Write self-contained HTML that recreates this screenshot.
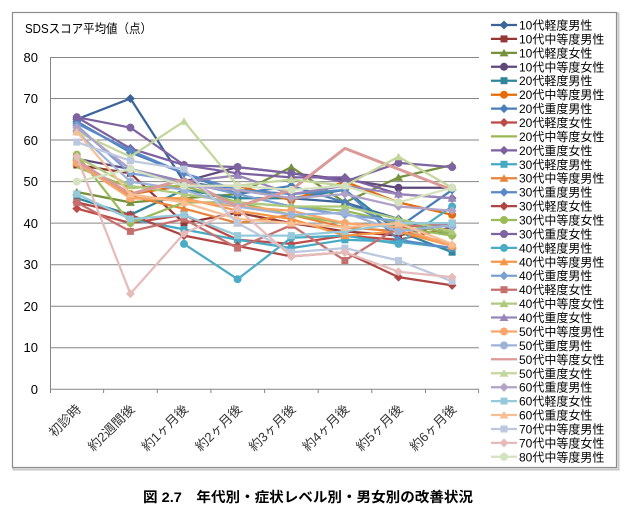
<!DOCTYPE html>
<html><head><meta charset="utf-8"><style>
html,body{margin:0;padding:0;background:#fff;}
svg{display:block;}
text{font-family:"Liberation Sans","Noto Sans CJK JP",sans-serif;}
</style></head><body>
<svg width="630" height="522" viewBox="0 0 630 522" xmlns="http://www.w3.org/2000/svg">
<defs>
<marker id="m1" markerWidth="10" markerHeight="10" refX="5" refY="5" markerUnits="userSpaceOnUse" overflow="visible"><path d="M5 0.5L9.5 5L5 9.5L0.5 5Z" fill="#3B6499"/></marker>
<marker id="m2" markerWidth="10" markerHeight="10" refX="5" refY="5" markerUnits="userSpaceOnUse" overflow="visible"><rect x="1.5" y="1.5" width="7" height="7" fill="#953735"/></marker>
<marker id="m3" markerWidth="10" markerHeight="10" refX="5" refY="5" markerUnits="userSpaceOnUse" overflow="visible"><path d="M5 1L9.5 8.5L0.5 8.5Z" fill="#76923C"/></marker>
<marker id="m4" markerWidth="10" markerHeight="10" refX="5" refY="5" markerUnits="userSpaceOnUse" overflow="visible"><circle cx="5" cy="5" r="4" fill="#5F497A"/></marker>
<marker id="m5" markerWidth="10" markerHeight="10" refX="5" refY="5" markerUnits="userSpaceOnUse" overflow="visible"><rect x="1.5" y="1.5" width="7" height="7" fill="#31859C"/></marker>
<marker id="m6" markerWidth="10" markerHeight="10" refX="5" refY="5" markerUnits="userSpaceOnUse" overflow="visible"><circle cx="5" cy="5" r="4" fill="#E46C0A"/></marker>
<marker id="m7" markerWidth="10" markerHeight="10" refX="5" refY="5" markerUnits="userSpaceOnUse" overflow="visible"><path d="M5 0.5L9.5 5L5 9.5L0.5 5Z" fill="#4A7EBB"/></marker>
<marker id="m8" markerWidth="10" markerHeight="10" refX="5" refY="5" markerUnits="userSpaceOnUse" overflow="visible"><path d="M5 0.5L9.5 5L5 9.5L0.5 5Z" fill="#BE4B48"/></marker>
<marker id="m10" markerWidth="10" markerHeight="10" refX="5" refY="5" markerUnits="userSpaceOnUse" overflow="visible"><path d="M5 0.5L9.5 5L5 9.5L0.5 5Z" fill="#7D60A0"/></marker>
<marker id="m11" markerWidth="10" markerHeight="10" refX="5" refY="5" markerUnits="userSpaceOnUse" overflow="visible"><rect x="1.5" y="1.5" width="7" height="7" fill="#46AAC5"/></marker>
<marker id="m12" markerWidth="10" markerHeight="10" refX="5" refY="5" markerUnits="userSpaceOnUse" overflow="visible"><path d="M5 1L9.5 8.5L0.5 8.5Z" fill="#E8833A"/></marker>
<marker id="m13" markerWidth="10" markerHeight="10" refX="5" refY="5" markerUnits="userSpaceOnUse" overflow="visible"><path d="M5 0.5L9.5 5L5 9.5L0.5 5Z" fill="#5A8AC6"/></marker>
<marker id="m14" markerWidth="10" markerHeight="10" refX="5" refY="5" markerUnits="userSpaceOnUse" overflow="visible"><path d="M5 0.5L9.5 5L5 9.5L0.5 5Z" fill="#B04643"/></marker>
<marker id="m15" markerWidth="10" markerHeight="10" refX="5" refY="5" markerUnits="userSpaceOnUse" overflow="visible"><circle cx="5" cy="5" r="4" fill="#9BBB59"/></marker>
<marker id="m16" markerWidth="10" markerHeight="10" refX="5" refY="5" markerUnits="userSpaceOnUse" overflow="visible"><circle cx="5" cy="5" r="4" fill="#7E63A1"/></marker>
<marker id="m17" markerWidth="10" markerHeight="10" refX="5" refY="5" markerUnits="userSpaceOnUse" overflow="visible"><circle cx="5" cy="5" r="4" fill="#4BACC6"/></marker>
<marker id="m18" markerWidth="10" markerHeight="10" refX="5" refY="5" markerUnits="userSpaceOnUse" overflow="visible"><path d="M5 1L9.5 8.5L0.5 8.5Z" fill="#F79646"/></marker>
<marker id="m19" markerWidth="10" markerHeight="10" refX="5" refY="5" markerUnits="userSpaceOnUse" overflow="visible"><path d="M5 0.5L9.5 5L5 9.5L0.5 5Z" fill="#7DA0D3"/></marker>
<marker id="m20" markerWidth="10" markerHeight="10" refX="5" refY="5" markerUnits="userSpaceOnUse" overflow="visible"><rect x="1.5" y="1.5" width="7" height="7" fill="#C6706E"/></marker>
<marker id="m21" markerWidth="10" markerHeight="10" refX="5" refY="5" markerUnits="userSpaceOnUse" overflow="visible"><path d="M5 1L9.5 8.5L0.5 8.5Z" fill="#AFCA7C"/></marker>
<marker id="m22" markerWidth="10" markerHeight="10" refX="5" refY="5" markerUnits="userSpaceOnUse" overflow="visible"><path d="M5 1L9.5 8.5L0.5 8.5Z" fill="#9886B9"/></marker>
<marker id="m23" markerWidth="10" markerHeight="10" refX="5" refY="5" markerUnits="userSpaceOnUse" overflow="visible"><circle cx="5" cy="5" r="4" fill="#F9A66C"/></marker>
<marker id="m24" markerWidth="10" markerHeight="10" refX="5" refY="5" markerUnits="userSpaceOnUse" overflow="visible"><circle cx="5" cy="5" r="4" fill="#9EB3D8"/></marker>
<marker id="m26" markerWidth="10" markerHeight="10" refX="5" refY="5" markerUnits="userSpaceOnUse" overflow="visible"><path d="M5 1L9.5 8.5L0.5 8.5Z" fill="#C3D69B"/></marker>
<marker id="m27" markerWidth="10" markerHeight="10" refX="5" refY="5" markerUnits="userSpaceOnUse" overflow="visible"><path d="M5 0.5L9.5 5L5 9.5L0.5 5Z" fill="#B1A3C8"/></marker>
<marker id="m28" markerWidth="10" markerHeight="10" refX="5" refY="5" markerUnits="userSpaceOnUse" overflow="visible"><rect x="1.5" y="1.5" width="7" height="7" fill="#96CADB"/></marker>
<marker id="m29" markerWidth="10" markerHeight="10" refX="5" refY="5" markerUnits="userSpaceOnUse" overflow="visible"><path d="M5 1L9.5 8.5L0.5 8.5Z" fill="#F9BF94"/></marker>
<marker id="m30" markerWidth="10" markerHeight="10" refX="5" refY="5" markerUnits="userSpaceOnUse" overflow="visible"><rect x="1.5" y="1.5" width="7" height="7" fill="#BCC8DF"/></marker>
<marker id="m31" markerWidth="10" markerHeight="10" refX="5" refY="5" markerUnits="userSpaceOnUse" overflow="visible"><path d="M5 0.5L9.5 5L5 9.5L0.5 5Z" fill="#E6BCBB"/></marker>
<marker id="m32" markerWidth="10" markerHeight="10" refX="5" refY="5" markerUnits="userSpaceOnUse" overflow="visible"><circle cx="5" cy="5" r="4" fill="#D5E2BF"/></marker>
</defs>

<!-- outer chart frame -->
<rect x="13.5" y="13.5" width="605" height="456" fill="none" stroke="#c8c8c8" stroke-width="2"/>
<rect x="12.5" y="12.5" width="604" height="455" fill="#fff" stroke="#8c8c8c" stroke-width="1.2"/>

<!-- title -->
<text x="25" y="33" font-size="12.5" fill="#000" textLength="127" lengthAdjust="spacingAndGlyphs">SDSスコア平均値（点）</text>

<!-- gridlines -->
<g stroke="#868686" stroke-width="1">
<line x1="50" y1="57.5" x2="479" y2="57.5"/>
<line x1="50" y1="98.5" x2="479" y2="98.5"/>
<line x1="50" y1="140" x2="479" y2="140"/>
<line x1="50" y1="181.6" x2="479" y2="181.6"/>
<line x1="50" y1="223.1" x2="479" y2="223.1"/>
<line x1="50" y1="264.7" x2="479" y2="264.7"/>
<line x1="50" y1="306.2" x2="479" y2="306.2"/>
<line x1="50" y1="347.8" x2="479" y2="347.8"/>
<line x1="50" y1="389.3" x2="479" y2="389.3"/>
<line x1="50.5" y1="57" x2="50.5" y2="389.3"/>
<line x1="50.5" y1="389" x2="50.5" y2="393"/>
<line x1="103.6" y1="389" x2="103.6" y2="393"/>
<line x1="157.3" y1="389" x2="157.3" y2="393"/>
<line x1="210.9" y1="389" x2="210.9" y2="393"/>
<line x1="264.6" y1="389" x2="264.6" y2="393"/>
<line x1="318.2" y1="389" x2="318.2" y2="393"/>
<line x1="371.8" y1="389" x2="371.8" y2="393"/>
<line x1="425.5" y1="389" x2="425.5" y2="393"/>
<line x1="478.6" y1="389" x2="478.6" y2="393"/>
</g>

<!-- y labels -->
<g font-size="13" fill="#000" text-anchor="end">
<text x="38" y="62">80</text>
<text x="38" y="103">70</text>
<text x="38" y="145">60</text>
<text x="38" y="186">50</text>
<text x="38" y="228">40</text>
<text x="38" y="269">30</text>
<text x="38" y="311">20</text>
<text x="38" y="352">10</text>
<text x="38" y="394">0</text>
</g>

<!-- x labels -->
<g font-size="13" fill="#333" text-anchor="end">
<text transform="translate(82,410) rotate(-45)">初診時</text>
<text transform="translate(135.4,410) rotate(-45)">約2週間後</text>
<text transform="translate(189,410) rotate(-45)">約1ヶ月後</text>
<text transform="translate(242.6,410) rotate(-45)">約2ヶ月後</text>
<text transform="translate(296.3,410) rotate(-45)">約3ヶ月後</text>
<text transform="translate(349.9,410) rotate(-45)">約4ヶ月後</text>
<text transform="translate(403.5,410) rotate(-45)">約5ヶ月後</text>
<text transform="translate(457.1,410) rotate(-45)">約6ヶ月後</text>
</g>

<!-- series -->
<g fill="none" stroke-width="2.25" stroke-linejoin="round">
<polyline stroke="#3B6499" marker-start="url(#m1)" marker-mid="url(#m1)" marker-end="url(#m1)" points="76.8,119.3 130.4,98.5 184,181.6 237.6,189.9 291.3,198.2 344.9,202.4 398.5,219 452.1,235.6"/>
<polyline stroke="#953735" marker-start="url(#m2)" marker-mid="url(#m2)" marker-end="url(#m2)" points="76.8,165 130.4,173.3 184,223.1 237.6,212.8 291.3,223.1 344.9,231.4 398.5,235.6 452.1,223.1"/>
<polyline stroke="#76923C" marker-start="url(#m3)" marker-mid="url(#m3)" marker-end="url(#m3)" points="76.8,192 130.4,202.4 184,198.2 237.6,194.1 291.3,167.1 344.9,202.4 398.5,177.4 452.1,165"/>
<polyline stroke="#5F497A" marker-start="url(#m4)" marker-mid="url(#m4)" marker-end="url(#m4)" points="76.8,158.7 130.4,169.1 184,181.6 237.6,167.1 291.3,173.3 344.9,179.5 398.5,187.8 452.1,187.8"/>
<polyline stroke="#31859C" marker-start="url(#m5)" marker-mid="url(#m5)" marker-end="url(#m5)" points="76.8,198.2 130.4,214.8 184,189.9 237.6,198.2 291.3,198.2 344.9,189.9 398.5,231.4 452.1,252.2"/>
<polyline stroke="#E46C0A" marker-start="url(#m6)" marker-mid="url(#m6)" marker-end="url(#m6)" points="76.8,160.8 130.4,194.1 184,185.8 237.6,185.8 291.3,200.3 344.9,181.6 398.5,202.4 452.1,214.8"/>
<polyline stroke="#4A7EBB" marker-start="url(#m7)" marker-mid="url(#m7)" marker-end="url(#m7)" points="76.8,121.4 130.4,152.5 184,173.3 237.6,194.1 291.3,185.8 344.9,202.4 398.5,227.3 452.1,189.9"/>
<polyline stroke="#BE4B48" marker-start="url(#m8)" marker-mid="url(#m8)" marker-end="url(#m8)" points="76.8,208.6 130.4,223.1 184,214.8 237.6,239.8 291.3,243.9 344.9,235.6 398.5,239.8 452.1,227.3"/>
<polyline stroke="#98B954" points="76.8,167.1 130.4,187.8 184,185.8 237.6,202.4 291.3,206.5 344.9,210.7 398.5,223.1 452.1,233.5"/>
<polyline stroke="#7D60A0" marker-start="url(#m10)" marker-mid="url(#m10)" marker-end="url(#m10)" points="76.8,117.2 130.4,148.4 184,165 237.6,173.3 291.3,177.4 344.9,177.4 398.5,194.1 452.1,198.2"/>
<polyline stroke="#46AAC5" marker-start="url(#m11)" marker-mid="url(#m11)" marker-end="url(#m11)" points="76.8,194.1 130.4,219 184,229.4 237.6,239.8 291.3,248.1 344.9,239.8 398.5,241.8 452.1,248.1"/>
<polyline stroke="#E8833A" marker-start="url(#m12)" marker-mid="url(#m12)" marker-end="url(#m12)" points="76.8,162.9 130.4,196.1 184,208.6 237.6,223.1 291.3,214.8 344.9,227.3 398.5,231.4 452.1,243.9"/>
<polyline stroke="#5A8AC6" marker-start="url(#m13)" marker-mid="url(#m13)" marker-end="url(#m13)" points="76.8,123.4 130.4,150.4 184,173.3 237.6,189.9 291.3,194.1 344.9,189.9 398.5,239.8 452.1,248.1"/>
<polyline stroke="#B04643" marker-start="url(#m14)" marker-mid="url(#m14)" marker-end="url(#m14)" points="76.8,202.4 130.4,214.8 184,235.6 237.6,246 291.3,256.4 344.9,252.2 398.5,277.1 452.1,285.4"/>
<polyline stroke="#9BBB59" marker-start="url(#m15)" marker-mid="url(#m15)" marker-end="url(#m15)" points="76.8,154.6 130.4,223.1 184,202.4 237.6,202.4 291.3,214.8 344.9,223.1 398.5,227.3 452.1,235.6"/>
<polyline stroke="#7E63A1" marker-start="url(#m16)" marker-mid="url(#m16)" marker-end="url(#m16)" points="76.8,117.2 130.4,127.6 184,165 237.6,167.1 291.3,173.3 344.9,181.6 398.5,162.9 452.1,167.1"/>
<polyline stroke="#4BACC6" marker-start="url(#m17)" marker-mid="url(#m17)" marker-end="url(#m17)" points="184,243.9 237.6,279.2 291.3,237.7 344.9,235.6 398.5,243.9 452.1,206.5"/>
<polyline stroke="#F79646" marker-start="url(#m18)" marker-mid="url(#m18)" marker-end="url(#m18)" points="76.8,160.8 130.4,198.2 184,198.2 237.6,210.7 291.3,219 344.9,235.6 398.5,231.4 452.1,246"/>
<polyline stroke="#7DA0D3" marker-start="url(#m19)" marker-mid="url(#m19)" marker-end="url(#m19)" points="76.8,125.5 130.4,173.3 184,181.6 237.6,194.1 291.3,206.5 344.9,214.8 398.5,221.1 452.1,227.3"/>
<polyline stroke="#C6706E" marker-start="url(#m20)" marker-mid="url(#m20)" marker-end="url(#m20)" points="76.8,202.4 130.4,231.4 184,219 237.6,248.1 291.3,225.2 344.9,260.5 398.5,227.3 452.1,223.1"/>
<polyline stroke="#AFCA7C" marker-start="url(#m21)" marker-mid="url(#m21)" marker-end="url(#m21)" points="76.8,156.7 130.4,185.8 184,194.1 237.6,202.4 291.3,206.5 344.9,206.5 398.5,219 452.1,231.4"/>
<polyline stroke="#9886B9" marker-start="url(#m22)" marker-mid="url(#m22)" marker-end="url(#m22)" points="76.8,127.6 130.4,169.1 184,181.6 237.6,175.4 291.3,194.1 344.9,185.8 398.5,194.1 452.1,198.2"/>
<polyline stroke="#F9A66C" marker-start="url(#m23)" marker-mid="url(#m23)" marker-end="url(#m23)" points="76.8,162.9 130.4,198.2 184,200.3 237.6,206.5 291.3,210.7 344.9,223.1 398.5,227.3 452.1,246"/>
<polyline stroke="#9EB3D8" marker-start="url(#m24)" marker-mid="url(#m24)" marker-end="url(#m24)" points="76.8,131.8 130.4,181.6 184,189.9 237.6,206.5 291.3,214.8 344.9,212.8 398.5,231.4 452.1,225.2"/>
<polyline stroke="#DA9A98" stroke-width="3" points="76.8,160.8 130.4,194.1 184,179.5 237.6,206.5 291.3,189.9 344.9,148.4 398.5,169.1 452.1,189.9"/>
<polyline stroke="#C3D69B" marker-start="url(#m26)" marker-mid="url(#m26)" marker-end="url(#m26)" points="76.8,131.8 130.4,156.7 184,121.4 237.6,185.8 291.3,179.5 344.9,185.8 398.5,156.7 452.1,187.8"/>
<polyline stroke="#B1A3C8" marker-start="url(#m27)" marker-mid="url(#m27)" marker-end="url(#m27)" points="76.8,127.6 130.4,169.1 184,185.8 237.6,189.9 291.3,198.2 344.9,194.1 398.5,206.5 452.1,210.7"/>
<polyline stroke="#96CADB" marker-start="url(#m28)" marker-mid="url(#m28)" marker-end="url(#m28)" points="76.8,194.1 130.4,219 184,214.8 237.6,235.6 291.3,235.6 344.9,231.4 398.5,223.1 452.1,223.1"/>
<polyline stroke="#F9BF94" marker-start="url(#m29)" marker-mid="url(#m29)" marker-end="url(#m29)" points="76.8,131.8 130.4,194.1 184,202.4 237.6,219 291.3,223.1 344.9,227.3 398.5,223.1 452.1,243.9"/>
<polyline stroke="#BCC8DF" marker-start="url(#m30)" marker-mid="url(#m30)" marker-end="url(#m30)" points="76.8,142.1 130.4,160.8 184,169.1 237.6,223.1 291.3,252.2 344.9,248.1 398.5,260.5 452.1,281.3"/>
<polyline stroke="#E6BCBB" marker-start="url(#m31)" marker-mid="url(#m31)" marker-end="url(#m31)" points="76.8,156.7 130.4,293.8 184,233.5 237.6,208.6 291.3,256.4 344.9,252.2 398.5,271.7 452.1,277.1"/>
<polyline stroke="#D5E2BF" marker-start="url(#m32)" marker-mid="url(#m32)" marker-end="url(#m32)" points="76.8,181.6 130.4,169.1 184,185.8 237.6,185.8 291.3,189.9 344.9,185.8 398.5,202.4 452.1,187.8"/>
</g>

<!-- legend lines -->
<g fill="none" stroke-width="2.25">
<polyline stroke="#3B6499" marker-mid="url(#m1)" points="491,25 504,25 517,25"/>
<polyline stroke="#953735" marker-mid="url(#m2)" points="491,38.9 504,38.9 517,38.9"/>
<polyline stroke="#76923C" marker-mid="url(#m3)" points="491,52.9 504,52.9 517,52.9"/>
<polyline stroke="#5F497A" marker-mid="url(#m4)" points="491,66.8 504,66.8 517,66.8"/>
<polyline stroke="#31859C" marker-mid="url(#m5)" points="491,80.7 504,80.7 517,80.7"/>
<polyline stroke="#E46C0A" marker-mid="url(#m6)" points="491,94.7 504,94.7 517,94.7"/>
<polyline stroke="#4A7EBB" marker-mid="url(#m7)" points="491,108.6 504,108.6 517,108.6"/>
<polyline stroke="#BE4B48" marker-mid="url(#m8)" points="491,122.5 504,122.5 517,122.5"/>
<polyline stroke="#98B954" points="491,136.4 504,136.4 517,136.4"/>
<polyline stroke="#7D60A0" marker-mid="url(#m10)" points="491,150.4 504,150.4 517,150.4"/>
<polyline stroke="#46AAC5" marker-mid="url(#m11)" points="491,164.3 504,164.3 517,164.3"/>
<polyline stroke="#E8833A" marker-mid="url(#m12)" points="491,178.2 504,178.2 517,178.2"/>
<polyline stroke="#5A8AC6" marker-mid="url(#m13)" points="491,192.2 504,192.2 517,192.2"/>
<polyline stroke="#B04643" marker-mid="url(#m14)" points="491,206.1 504,206.1 517,206.1"/>
<polyline stroke="#9BBB59" marker-mid="url(#m15)" points="491,220 504,220 517,220"/>
<polyline stroke="#7E63A1" marker-mid="url(#m16)" points="491,234 504,234 517,234"/>
<polyline stroke="#4BACC6" marker-mid="url(#m17)" points="491,247.9 504,247.9 517,247.9"/>
<polyline stroke="#F79646" marker-mid="url(#m18)" points="491,261.8 504,261.8 517,261.8"/>
<polyline stroke="#7DA0D3" marker-mid="url(#m19)" points="491,275.7 504,275.7 517,275.7"/>
<polyline stroke="#C6706E" marker-mid="url(#m20)" points="491,289.7 504,289.7 517,289.7"/>
<polyline stroke="#AFCA7C" marker-mid="url(#m21)" points="491,303.6 504,303.6 517,303.6"/>
<polyline stroke="#9886B9" marker-mid="url(#m22)" points="491,317.5 504,317.5 517,317.5"/>
<polyline stroke="#F9A66C" marker-mid="url(#m23)" points="491,331.5 504,331.5 517,331.5"/>
<polyline stroke="#9EB3D8" marker-mid="url(#m24)" points="491,345.4 504,345.4 517,345.4"/>
<polyline stroke="#DA9A98" points="491,359.3 504,359.3 517,359.3"/>
<polyline stroke="#C3D69B" marker-mid="url(#m26)" points="491,373.3 504,373.3 517,373.3"/>
<polyline stroke="#B1A3C8" marker-mid="url(#m27)" points="491,387.2 504,387.2 517,387.2"/>
<polyline stroke="#96CADB" marker-mid="url(#m28)" points="491,401.1 504,401.1 517,401.1"/>
<polyline stroke="#F9BF94" marker-mid="url(#m29)" points="491,415 504,415 517,415"/>
<polyline stroke="#BCC8DF" marker-mid="url(#m30)" points="491,429 504,429 517,429"/>
<polyline stroke="#E6BCBB" marker-mid="url(#m31)" points="491,442.9 504,442.9 517,442.9"/>
<polyline stroke="#D5E2BF" marker-mid="url(#m32)" points="491,456.8 504,456.8 517,456.8"/>
</g>

<!-- legend text -->
<g font-size="12" fill="#000">
<text x="519" y="29.5">10代軽度男性</text>
<text x="519" y="43.4">10代中等度男性</text>
<text x="519" y="57.4">10代軽度女性</text>
<text x="519" y="71.3">10代中等度女性</text>
<text x="519" y="85.2">20代軽度男性</text>
<text x="519" y="99.2">20代中等度男性</text>
<text x="519" y="113.1">20代重度男性</text>
<text x="519" y="127">20代軽度女性</text>
<text x="519" y="140.9">20代中等度女性</text>
<text x="519" y="154.9">20代重度女性</text>
<text x="519" y="168.8">30代軽度男性</text>
<text x="519" y="182.7">30代中等度男性</text>
<text x="519" y="196.7">30代重度男性</text>
<text x="519" y="210.6">30代軽度女性</text>
<text x="519" y="224.5">30代中等度女性</text>
<text x="519" y="238.5">30代重度女性</text>
<text x="519" y="252.4">40代軽度男性</text>
<text x="519" y="266.3">40代中等度男性</text>
<text x="519" y="280.2">40代重度男性</text>
<text x="519" y="294.2">40代軽度女性</text>
<text x="519" y="308.1">40代中等度女性</text>
<text x="519" y="322">40代重度女性</text>
<text x="519" y="336">50代中等度男性</text>
<text x="519" y="349.9">50代重度男性</text>
<text x="519" y="363.8">50代中等度女性</text>
<text x="519" y="377.8">50代重度女性</text>
<text x="519" y="391.7">60代重度男性</text>
<text x="519" y="405.6">60代軽度女性</text>
<text x="519" y="419.5">60代重度女性</text>
<text x="519" y="433.5">70代中等度男性</text>
<text x="519" y="447.4">70代中等度女性</text>
<text x="519" y="461.3">80代中等度男性</text>
</g>

<!-- caption -->
<text x="143" y="502" font-size="14" font-weight="bold" fill="#000" textLength="330" lengthAdjust="spacingAndGlyphs">図 2.7　年代別・症状レベル別・男女別の改善状況</text>
</svg>
</body></html>
